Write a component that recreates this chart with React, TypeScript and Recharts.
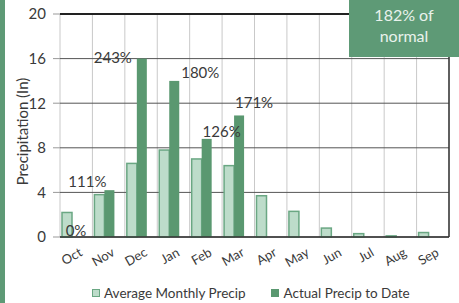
import React from 'react';
import { BarChart, Bar, XAxis, YAxis, CartesianGrid, Legend, LabelList, ReferenceLine } from 'recharts';

const months = ['Oct', 'Nov', 'Dec', 'Jan', 'Feb', 'Mar', 'Apr', 'May', 'Jun', 'Jul', 'Aug', 'Sep'];
const averagePrecip = [2.2, 3.8, 6.6, 7.8, 7.0, 6.4, 3.7, 2.3, 0.8, 0.3, 0.1, 0.4];
const actualPrecip: (number | null)[] = [0, 4.2, 16.0, 14.0, 8.8, 10.9, null, null, null, null, null, null];
const percentLabels = ['0%', '111%', '243%', '180%', '126%', '171%', '', '', '', '', '', ''];
const yTicks = [0, 4, 8, 12, 16, 20];
const totalLine1 = '182% of';
const totalLine2 = 'normal';
const seriesNames = ['Average Monthly Precip', 'Actual Precip to Date'];

// layout / style constants
const FONT = 'Lato, "Open Sans", sans-serif';
const BAR_SHIFT = -4;
const labelOffsets: [number, number][] = [[-1, -7], [-22, -9], [-29, -2], [26, -9], [15, -8], [15, -13]];
const GREEN = '#5a9870';
const LIGHT = '#bddcca';
const LIGHT_STROKE = '#6aa783';
const TEXT = '#3a3a3a';

const data = months.map((m, i) => ({ month: m, avg: averagePrecip[i], actual: actualPrecip[i] }));

const ShiftedBar = (props: any) => {
  const { x, y, width, height, fill, stroke, strokeWidth } = props;
  if (height == null || isNaN(height) || height <= 0) return null;
  return <rect x={x + BAR_SHIFT} y={y} width={width} height={height} fill={fill} stroke={stroke} strokeWidth={strokeWidth} />;
};

const renderPct = (props: any) => {
  const { x, y, width, index } = props;
  const text = percentLabels[index];
  if (!text || x == null || y == null) return null;
  const [dx, dy] = labelOffsets[index] || [0, -8];
  return (
    <text x={x + width / 2 + BAR_SHIFT + dx} y={y + dy} textAnchor="middle" dominantBaseline="central"
      fontSize={15} fill={TEXT} fontFamily={FONT}>{text}</text>
  );
};

const XTick = (props: any) => {
  const { x, y, payload } = props;
  return (
    <g transform={`translate(${x + BAR_SHIFT + 11},${y + 18})`}>
      <text textAnchor="end" transform="rotate(-30)" fontSize={13} fill={TEXT} fontFamily={FONT}>{payload.value}</text>
    </g>
  );
};

const YLabel = (props: any) => {
  const vb = props.viewBox || {};
  const cx = (vb.x || 0) + 22;
  const cy = (vb.y || 0) + (vb.height || 0) / 2 + 6;
  return (
    <text x={cx} y={cy} transform={`rotate(-90, ${cx}, ${cy})`} textAnchor="middle" dominantBaseline="central"
      fontSize={15} fill={TEXT} fontFamily={FONT}>Precipitation (In)</text>
  );
};

const boundaryLines = ({ offset }: any) => {
  const out: number[] = [];
  for (let i = 0; i <= months.length; i++) out.push(offset.left + (i * offset.width) / months.length);
  return out;
};
const rightEdge = ({ offset }: any) => [offset.left + offset.width];

const LegendContent = () => (
  <div style={{ display: 'flex', alignItems: 'center', paddingLeft: 92, fontFamily: FONT, fontSize: 13.5, color: TEXT, whiteSpace: 'nowrap' }}>
    <span style={{ display: 'inline-block', width: 6, height: 6, background: LIGHT, border: `1.5px solid ${LIGHT_STROKE}`, marginRight: 4 }} />
    <span style={{ marginRight: 25 }}>{seriesNames[0]}</span>
    <span style={{ display: 'inline-block', width: 8, height: 8, background: GREEN, marginRight: 5 }} />
    <span>{seriesNames[1]}</span>
  </div>
);

export default function App() {
  return (
    <div style={{ position: 'absolute', left: 0, top: 0, width: 459, height: 303, background: '#fff', overflow: 'hidden' }}>
      <div style={{ position: 'absolute', left: 0, top: 0, width: 5, height: 303, background: '#5e9a76' }} />
      <BarChart width={459} height={303} data={data} margin={{ top: 14, right: 10, bottom: 36, left: 0 }} barGap={0} barSize={10}>
        <CartesianGrid horizontal={false} stroke="#c9c9c9" verticalCoordinatesGenerator={boundaryLines} />
        <CartesianGrid vertical={false} stroke="#555" />
        <CartesianGrid horizontal={false} stroke="#333" strokeWidth={1.5} verticalCoordinatesGenerator={rightEdge} />
        <XAxis dataKey="month" interval={0} height={30} tickLine={false} tickSize={0} tickMargin={0} axisLine={{ stroke: '#333', strokeWidth: 1.5 }} tick={<XTick />} />
        <YAxis domain={[0, 20]} ticks={yTicks} width={60} tickSize={7} tickMargin={7} axisLine={false}
          tickLine={{ stroke: '#999' }} tick={{ fontSize: 15, fill: TEXT, fontFamily: FONT }} label={<YLabel />} />
        <ReferenceLine y={20} stroke="#222" strokeWidth={2} />
        <Legend layout="horizontal" verticalAlign="middle" align="center" content={<LegendContent />}
          wrapperStyle={{ position: 'absolute', top: 285, left: 0, width: 459, height: 18 }} />
        <Bar dataKey="avg" name={seriesNames[0]} fill={LIGHT} stroke={LIGHT_STROKE} strokeWidth={1.5} shape={<ShiftedBar />} isAnimationActive={false} />
        <Bar dataKey="actual" name={seriesNames[1]} fill={GREEN} shape={<ShiftedBar />} isAnimationActive={false}>
          <LabelList dataKey="actual" content={renderPct} />
        </Bar>
      </BarChart>
      <div style={{ position: 'absolute', left: 349, top: 0, width: 110, height: 57, background: '#5e9a76', color: '#e9f2ec',
        fontFamily: FONT, fontSize: 16, textAlign: 'center', lineHeight: '21px' }}>
        <div style={{ marginTop: 4 }}>{totalLine1}</div>
        <div>{totalLine2}</div>
      </div>
    </div>
  );
}
